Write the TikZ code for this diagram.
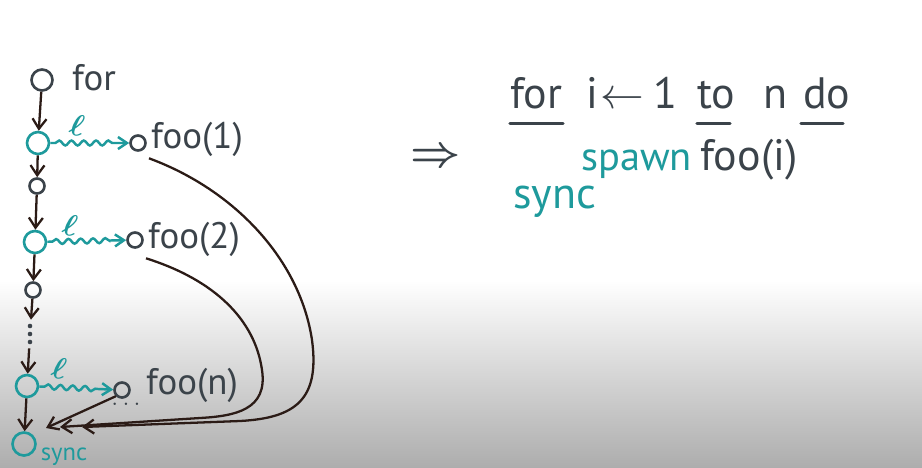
\documentclass[tikz,border=0pt]{standalone}
\usepackage{fontspec}
\setmainfont{PT Sans}
\usepackage{xcolor}
\usetikzlibrary{arrows.meta,positioning,calc,decorations.pathmorphing}
\definecolor{ink}{HTML}{3B434A}
\definecolor{spawnc}{HTML}{1E9A9C}
\definecolor{edge}{HTML}{2B1B16}

\begin{document}
\begin{tikzpicture}[
  x=0.02cm,y=-0.02cm,
  v/.style={circle,draw=ink,line width=1.5pt,minimum size=0.42cm,inner sep=0pt},
  s/.style={v,draw=spawnc,minimum size=0.44cm},
  w/.style={v,minimum size=0.30cm},
  a/.style={-{Straight Barb[length=2mm,width=2.8mm]},draw=edge,line width=1.3pt},
  sp/.style={-{Straight Barb[length=1.8mm,width=2.4mm]},draw=spawnc,line width=1.4pt,
             decorate,decoration={snake,amplitude=1.4pt,segment length=7pt,pre length=1mm,post length=2.5mm}},
  t/.style={font=\fontsize{21}{23}\selectfont,text=ink,inner sep=1pt,anchor=west},
  c/.style={font=\fontsize{25}{28}\selectfont,text=ink,inner sep=0pt,anchor=base west},
  u/.style={draw=ink,line width=1.8pt,line cap=round},
  mk/.style={font=\fontsize{19}{20}\selectfont\boldmath,text=spawnc,inner sep=0pt,rotate=-10}]
\useasboundingbox (0,0) rectangle (922,467);
\fill[white] (0,0) rectangle (922,467);
\shade[top color=white,bottom color=black!32] (0,280) rectangle (922,467);

% left: the spawn chain
\node[v] (for) at (42,80) {};
\node[t] (forl) at (70,78) {for};
\node[s] (sp1) at (38,143) {};
\node[w] (f1) at (138,143) {};
\node[t] (f1l) at (149,139) {foo(1)};
\node[mk] (l1) at (77,125) {$\ell$};
\node[w] (m1) at (37,186) {};
\node[s] (sp2) at (35,242) {};
\node[w] (f2) at (135,240) {};
\node[t] (f2l) at (146,239) {foo(2)};
\node[mk] (l2) at (70,225) {$\ell$};
\node[w] (m2) at (33,290) {};
\node[inner sep=0pt,minimum width=6pt,minimum height=0.56cm] (dots) at (30,334) {};
\foreach \dy in {-8,0,8}
  \fill[ink] ($(dots)+(0,\dy)$) circle (1.3pt);
\node[s] (spn) at (27,386) {};
\node[w] (fn) at (122,390) {};
\node[t] (fnl) at (144,385) {foo(n)};
\node[text=ink,inner sep=0pt,font=\Large] (fdots) at (126,404) {$\dots$};
\node[mk] (ln) at (59,368) {$\ell$};
\node[s,minimum size=0.46cm] (sync) at (24,444) {};
\node[font=\fontsize{14}{15}\selectfont,text=spawnc,inner sep=0pt] (syncl) at (64,457) {sync};
\coordinate (inn) at (46,428);
\coordinate (in2) at (60,427);
\coordinate (in1) at (82,427);

\draw[a] (for) -- (sp1);
\draw[sp] (sp1) -- (f1);
\draw[a] (sp1) -- (m1);
\draw[a] (m1) -- (sp2);
\draw[sp] (sp2) -- (f2);
\draw[a] (sp2) -- (m2);
\draw[a] (m2) -- (dots);
\draw[a] (dots) -- (spn);
\draw[sp] (spn) -- (fn);
\draw[a] (spn) -- (sync);
\draw[a] (fn.south west) -- (inn);
\draw[a] (f2l.south west) .. controls (215,280) and (255,320) .. (262,370)
  .. controls (268,410) and (235,416) .. (200,418) -- (in2);
\draw[a] (f1l.south west) .. controls (235,190) and (300,260) .. (312,340)
  .. controls (320,400) and (295,418) .. (240,421) -- (in1);

% right: the code
\node[font=\fontsize{46}{48}\selectfont\boldmath,text=ink,inner sep=0pt] (impl) at (436,158) {$\Rightarrow$};
\node[c] (kfor) at (510,108) {for};
\node[c] (vari) at (586,108) {i};
\node[c] (assign) at (600,108) {$\leftarrow$};
\node[c] (one) at (653,108) {1};
\node[c] (kto) at (697,108) {to};
\node[c] (varn) at (763,108) {n};
\node[c] (kdo) at (803,108) {do};
\draw[u] (kfor.south west) ++(0,15) -- ++(53,0);
\draw[u] (kto.south west) ++(0,15) -- ++(33,0);
\draw[u] (kdo.south west) ++(-2,15) -- ++(42,0);
\node[c,text=spawnc,font=\fontsize{23}{26}\selectfont] (spawn) at (581,170) {spawn};
\node[c] (call) at (700,170) {foo(i)};
\node[c,text=spawnc] (sync2) at (513,208) {sync};
\end{tikzpicture}
\end{document}
